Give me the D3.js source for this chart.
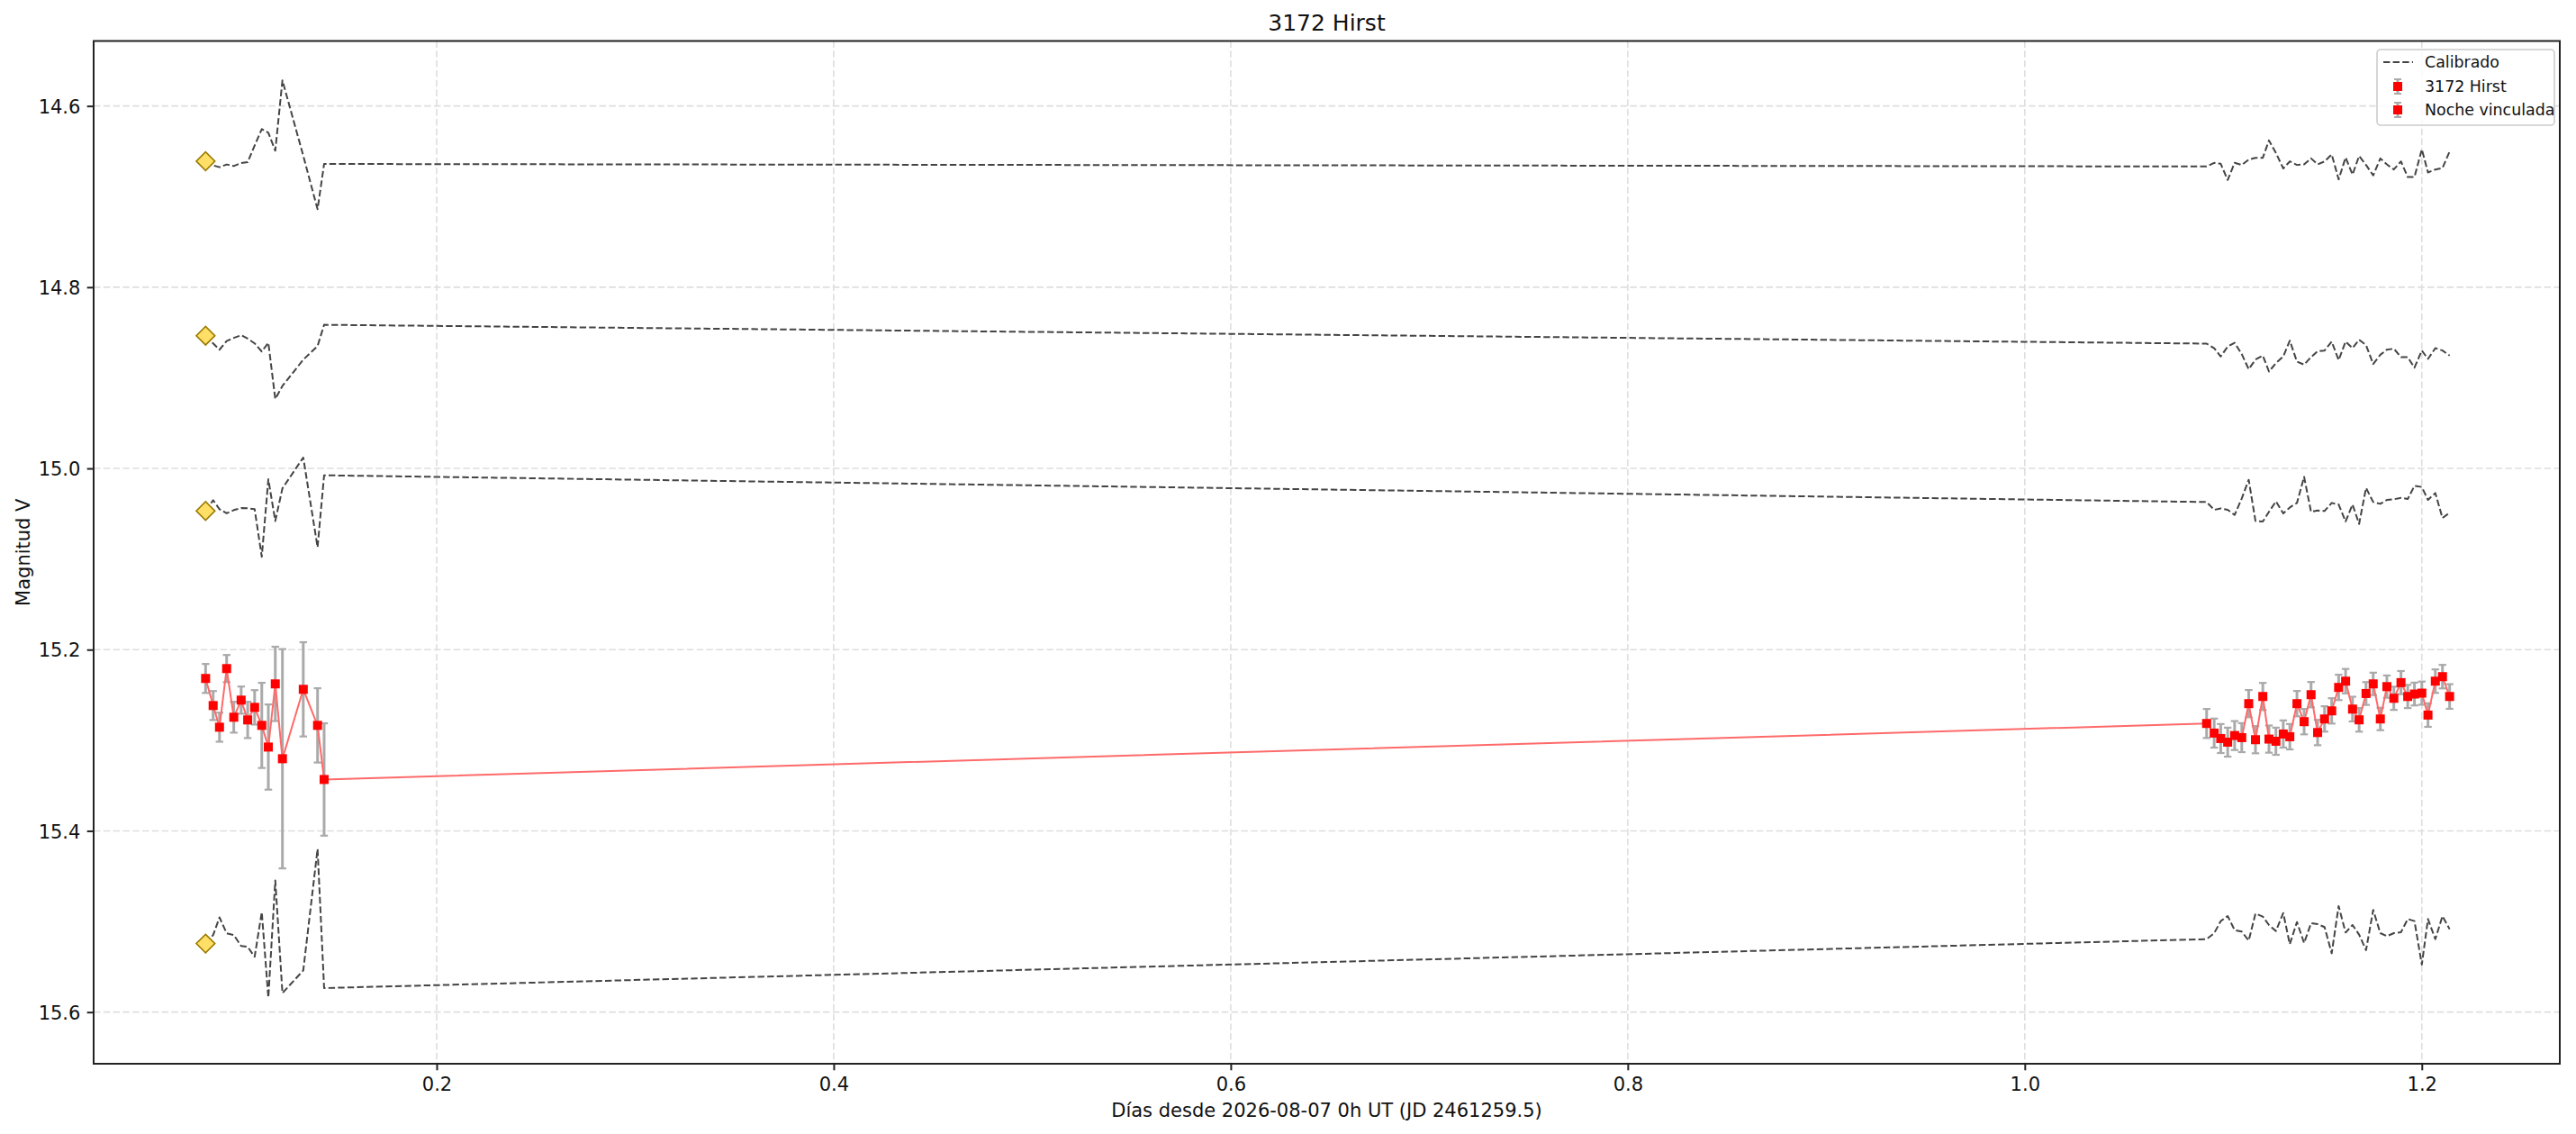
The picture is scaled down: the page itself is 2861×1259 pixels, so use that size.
<!DOCTYPE html>
<html>
<head>
<meta charset="utf-8">
<script src="https://cdn.jsdelivr.net/npm/d3@7"></script>
<style>
  html, body { margin: 0; padding: 0; background: #ffffff; }
  svg { display: block; font-family: "DejaVu Sans", sans-serif; }
</style>
</head>
<body>
<svg id="chart" width="2861" height="1259"></svg>
<script>
// ---------------- DATA ----------------
const title = "3172 Hirst";
const xLabel = "Días desde 2026-08-07 0h UT (JD 2461259.5)";
const yLabel = "Magnitud V";
const xTicks = [0.2, 0.4, 0.6, 0.8, 1.0, 1.2];
const xTickLabels = ["0.2", "0.4", "0.6", "0.8", "1.0", "1.2"];
const yTicks = [14.6, 14.8, 15.0, 15.2, 15.4, 15.6];
const yTickLabels = ["14.6", "14.8", "15.0", "15.2", "15.4", "15.6"];
const legendLabels = ["Calibrado", "3172 Hirst", "Noche vinculada"];

// first night (3172 Hirst)
const timesNight1 = [0.0836, 0.0874, 0.0906, 0.0942, 0.0978, 0.1015, 0.1048, 0.1083, 0.1119, 0.1152, 0.1187, 0.1223, 0.1328, 0.1400, 0.1433];
const hirstMag = [15.2318, 15.2617, 15.2856, 15.2209, 15.2746, 15.2557, 15.2776, 15.2637, 15.2836, 15.3075, 15.2378, 15.3204, 15.2438, 15.2836, 15.3433];
const hirstErr = [0.016, 0.016, 0.016, 0.015, 0.017, 0.015, 0.020, 0.019, 0.047, 0.047, 0.041, 0.121, 0.052, 0.041, 0.062];

// linked night
const timesNight2 = [1.0916, 1.0954, 1.0987, 1.1022, 1.1057, 1.1093, 1.1128, 1.1162, 1.1199, 1.1230, 1.1265, 1.1302, 1.1335, 1.1371, 1.1407, 1.1442, 1.1475, 1.1510, 1.1546, 1.1581, 1.1616, 1.1651, 1.1684, 1.1719, 1.1755, 1.1791, 1.1824, 1.1859, 1.1895, 1.1929, 1.1963, 1.2000, 1.2031, 1.2068, 1.2104, 1.2140];
const linkedMag = [15.2815, 15.2921, 15.2981, 15.3021, 15.2948, 15.2971, 15.2596, 15.2994, 15.2517, 15.2987, 15.3011, 15.2931, 15.2961, 15.2596, 15.2795, 15.2497, 15.2915, 15.2765, 15.2676, 15.2417, 15.2348, 15.2656, 15.2775, 15.2484, 15.2378, 15.2765, 15.2408, 15.2537, 15.2364, 15.2517, 15.2490, 15.2480, 15.2722, 15.2348, 15.2298, 15.2517];
const linkedErr = [0.016, 0.016, 0.016, 0.016, 0.016, 0.016, 0.015, 0.015, 0.015, 0.015, 0.015, 0.015, 0.014, 0.014, 0.014, 0.014, 0.014, 0.014, 0.014, 0.014, 0.0135, 0.0136, 0.013, 0.0126, 0.0124, 0.0124, 0.0123, 0.0128, 0.0128, 0.0128, 0.0126, 0.0128, 0.013, 0.013, 0.013, 0.0136];

// calibrated comparison stars (night 1 values then linked-night values)
const comp1 = [14.661, 14.6656, 14.6676, 14.6646, 14.6663, 14.663, 14.662, 14.6437, 14.6255, 14.6295, 14.6494, 14.5718, 14.655, 14.714, 14.664,
  14.6668, 14.6628, 14.6638, 14.6817, 14.6628, 14.6651, 14.6592, 14.6572, 14.6572, 14.6380, 14.6519, 14.6690, 14.6612, 14.6651, 14.6645, 14.6579, 14.6645, 14.6612, 14.6535, 14.6810, 14.6569, 14.6757, 14.6552, 14.6651, 14.6767, 14.6579, 14.6645, 14.6701, 14.6612, 14.6784, 14.6784, 14.6479, 14.6734, 14.6701, 14.6685, 14.6502];
const comp2 = [14.8535, 14.862, 14.869, 14.8594, 14.856, 14.853, 14.8568, 14.862, 14.871, 14.8613, 14.9234, 14.909, 14.880, 14.865, 14.8415,
  14.8623, 14.8673, 14.8765, 14.8656, 14.8613, 14.8739, 14.8905, 14.8799, 14.8755, 14.8931, 14.8838, 14.8765, 14.8590, 14.8822, 14.8855, 14.8772, 14.8706, 14.8699, 14.8600, 14.8805, 14.8600, 14.8673, 14.8580, 14.8639, 14.8848, 14.8746, 14.8689, 14.8679, 14.8772, 14.8772, 14.8888, 14.8699, 14.8792, 14.8673, 14.8699, 14.8755];
const comp3 = [15.047, 15.035, 15.045, 15.0495, 15.046, 15.0438, 15.044, 15.045, 15.0975, 15.012, 15.058, 15.022, 14.988, 15.087, 15.0076,
  15.0371, 15.0457, 15.0441, 15.0457, 15.0514, 15.0331, 15.0126, 15.058, 15.0586, 15.048, 15.0364, 15.0497, 15.0431, 15.0381, 15.0093, 15.048, 15.0464, 15.047, 15.0381, 15.0398, 15.0586, 15.0398, 15.0613, 15.0215, 15.0371, 15.0391, 15.0348, 15.0341, 15.0325, 15.0338, 15.0192, 15.0205, 15.0348, 15.0272, 15.0547, 15.049];
const comp4 = [15.5244, 15.515, 15.4955, 15.513, 15.515, 15.527, 15.528, 15.539, 15.4896, 15.584, 15.4547, 15.579, 15.554, 15.420, 15.5735,
  15.5195, 15.5129, 15.4996, 15.494, 15.5095, 15.5112, 15.5211, 15.4913, 15.4946, 15.5039, 15.5105, 15.4907, 15.5251, 15.5006, 15.5238, 15.5019, 15.5029, 15.5062, 15.5351, 15.483, 15.5122, 15.5039, 15.5145, 15.5317, 15.4873, 15.5129, 15.5162, 15.5129, 15.5119, 15.4973, 15.4996, 15.5476, 15.4973, 15.5195, 15.494, 15.5085];

// ---------------- CHART ----------------
(function () {
const svg = d3.select("#chart");
const W = 2861, H = 1259;
const pL = 104, pR = 2843, pT = 45.5, pB = 1181;
const FONT = "DejaVu Sans";

const x = d3.scaleLinear().domain([0.0272, 1.2695]).range([pL, pR]);
const y = d3.scaleLinear().domain([14.5283, 15.657]).range([pT, pB]);

svg.append("rect").attr("width", W).attr("height", H).attr("fill", "#ffffff");

// grid
const grid = svg.append("g");
grid.selectAll("line.gx").data(xTicks).join("line")
  .attr("x1", d => x(d)).attr("x2", d => x(d)).attr("y1", pT).attr("y2", pB)
  .attr("stroke", "#dedede").attr("stroke-width", 1.6).attr("stroke-dasharray", "7.5,3.3");
grid.selectAll("line.gy").data(yTicks).join("line")
  .attr("x1", pL).attr("x2", pR).attr("y1", d => y(d)).attr("y2", d => y(d))
  .attr("stroke", "#dedede").attr("stroke-width", 1.6).attr("stroke-dasharray", "7.5,3.3");

const allTimes = timesNight1.concat(timesNight2);

// calibrated comparison lines
const comps = [comp1, comp2, comp3, comp4];
const lineGen = d3.line().x(d => x(d[0])).y(d => y(d[1]));
const gComp = svg.append("g");
comps.forEach(c => {
  const pts = allTimes.map((t, i) => [t, c[i]]);
  gComp.append("path").attr("d", lineGen(pts))
    .attr("fill", "none").attr("stroke", "#444444").attr("stroke-width", 2)
    .attr("stroke-dasharray", "7.4,3.2").attr("stroke-linejoin", "round");
});
const diamond = d3.symbol().type(d3.symbolSquare).size(214);
gComp.selectAll("path.dia").data(comps).join("path")
  .attr("class", "dia")
  .attr("d", diamond)
  .attr("transform", d => `translate(${x(allTimes[0])},${y(d[0])}) rotate(45)`)
  .attr("fill", "#ffdf66").attr("stroke", "#9a7a00").attr("stroke-width", 1.6);

// target
const n1 = timesNight1.length;
const tgt = allTimes.map((t, i) => ({
  t: t,
  m: i < n1 ? hirstMag[i] : linkedMag[i - n1],
  e: i < n1 ? hirstErr[i] : linkedErr[i - n1]
}));
const gT = svg.append("g");
gT.selectAll("line.eb").data(tgt).join("line")
  .attr("class", "eb")
  .attr("x1", d => x(d.t)).attr("x2", d => x(d.t))
  .attr("y1", d => y(d.m - d.e)).attr("y2", d => y(d.m + d.e))
  .attr("stroke", "#aaaaaa").attr("stroke-width", 3);
["cap1", "cap2"].forEach((k, j) => {
  gT.selectAll("line." + k).data(tgt).join("line")
    .attr("class", k)
    .attr("x1", d => x(d.t) - 4.2).attr("x2", d => x(d.t) + 4.2)
    .attr("y1", d => y(j ? d.m + d.e : d.m - d.e)).attr("y2", d => y(j ? d.m + d.e : d.m - d.e))
    .attr("stroke", "#aaaaaa").attr("stroke-width", 2.2);
});
gT.append("path").attr("d", d3.line().x(d => x(d.t)).y(d => y(d.m))(tgt))
  .attr("fill", "none").attr("stroke", "#ff6a6a").attr("stroke-width", 2).attr("stroke-linejoin", "round");
gT.selectAll("rect.pt").data(tgt).join("rect")
  .attr("class", "pt")
  .attr("x", d => x(d.t) - 5).attr("y", d => y(d.m) - 5)
  .attr("width", 10).attr("height", 10).attr("fill", "#ff0000");

// axes
const axB = svg.append("g").attr("transform", `translate(0,${pB})`)
  .call(d3.axisBottom(x).tickValues(xTicks).tickFormat((d, i) => xTickLabels[i]).tickSize(7.3).tickPadding(7.5).tickSizeOuter(0));
const axL = svg.append("g").attr("transform", `translate(${pL},0)`)
  .call(d3.axisLeft(y).tickValues(yTicks).tickFormat((d, i) => yTickLabels[i]).tickSize(7.3).tickPadding(7.3).tickSizeOuter(0));
[axB, axL].forEach(a => {
  a.select(".domain").remove();
  a.selectAll(".tick line").attr("stroke", "#222222").attr("stroke-width", 2);
  a.selectAll(".tick text").attr("fill", "#111111").attr("font-size", 21).attr("font-family", FONT);
});
axL.selectAll(".tick text").attr("dy", "0.36em");

// spines
svg.append("rect").attr("x", pL).attr("y", pT).attr("width", pR - pL).attr("height", pB - pT)
  .attr("fill", "none").attr("stroke", "#222222").attr("stroke-width", 2);

// labels
svg.append("text").attr("x", (pL + pR) / 2).attr("y", 34).attr("text-anchor", "middle")
  .attr("font-size", 25).attr("font-family", FONT).attr("fill", "#111").text(title);
svg.append("text").attr("x", (pL + pR) / 2).attr("y", 1240).attr("text-anchor", "middle")
  .attr("font-size", 21).attr("font-family", FONT).attr("fill", "#111").text(xLabel);
svg.append("text").attr("transform", `translate(33,${(pT + pB) / 2}) rotate(-90)`).attr("text-anchor", "middle")
  .attr("font-size", 21).attr("font-family", FONT).attr("fill", "#111").text(yLabel);

// legend
const lg = svg.append("g");
lg.append("rect").attr("x", 2640).attr("y", 55).attr("width", 197).attr("height", 84).attr("rx", 4)
  .attr("fill", "#ffffff").attr("fill-opacity", 0.85).attr("stroke", "#cccccc").attr("stroke-width", 1.6);
const rows = [69, 96, 122];
lg.append("line").attr("x1", 2647).attr("x2", 2680).attr("y1", rows[0]).attr("y2", rows[0])
  .attr("stroke", "#444444").attr("stroke-width", 2).attr("stroke-dasharray", "7.4,3.2");
[rows[1], rows[2]].forEach(ry => {
  lg.append("line").attr("x1", 2663).attr("x2", 2663).attr("y1", ry - 8).attr("y2", ry + 8)
    .attr("stroke", "#aaaaaa").attr("stroke-width", 3);
  [ry - 8, ry + 8].forEach(cy => lg.append("line").attr("x1", 2659).attr("x2", 2667).attr("y1", cy).attr("y2", cy)
    .attr("stroke", "#aaaaaa").attr("stroke-width", 2));
  lg.append("rect").attr("x", 2658).attr("y", ry - 5).attr("width", 10).attr("height", 10).attr("fill", "#ff0000");
});
lg.selectAll("text.lt").data(legendLabels).join("text")
  .attr("class", "lt")
  .attr("x", 2693).attr("y", (d, i) => rows[i]).attr("dy", "0.36em")
  .attr("font-size", 17.4).attr("font-family", FONT).attr("fill", "#111").text(d => d);
})();
</script>
</body>
</html>
